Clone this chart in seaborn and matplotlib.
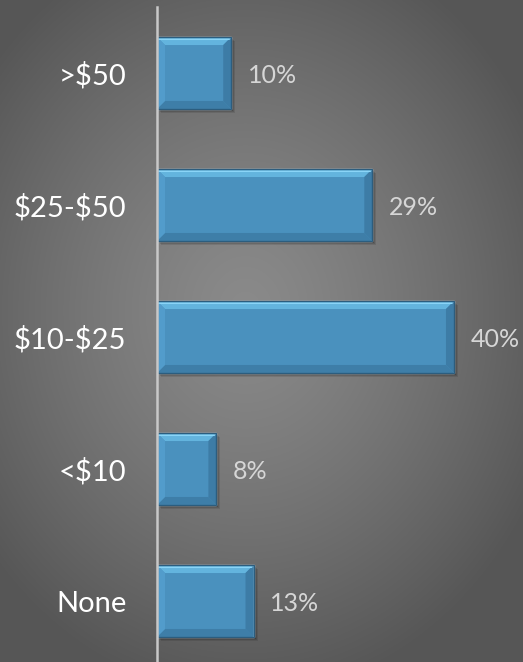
import numpy as np
import pandas as pd
import matplotlib
matplotlib.use('Agg')
import matplotlib.pyplot as plt
import matplotlib.transforms as mtransforms
from matplotlib.patches import Polygon, Rectangle
import seaborn as sns

# data
categories = ['>$50', '$25-$50', '$10-$25', '<$10', 'None']
values = [10, 29, 40, 8, 13]
value_labels = ['10%', '29%', '40%', '8%', '13%']

sns.set_theme(style='white')
plt.rcParams['font.family'] = ['Lato', 'DejaVu Sans']
plt.rcParams['text.parse_math'] = False  # keep the $ signs literal

W, H = 523, 662
fig = plt.figure(figsize=(W / 100, H / 100), dpi=100)

# radial grey background
bg = fig.add_axes([0, 0, 1, 1], zorder=-5)
yy, xx = np.mgrid[0:H, 0:W]
r = np.sqrt(((xx - 245) / 330.0) ** 2 + ((yy - 310) / 390.0) ** 2)
r = np.clip(r, 0, 1)
shade = (0x8a - (0x8a - 0x56) * r ** 1.3) / 255.0
bg.imshow(np.dstack([shade, shade, shade]), aspect='auto', extent=(0, 1, 0, 1))
bg.set_axis_off()

ax = fig.add_axes([157 / W, -5 / H, 1 - 157 / W, 660 / H])
ax.set_facecolor('none')

df = pd.DataFrame({'cat': categories, 'val': values})
sns.barplot(data=df, x='val', y='cat', orient='h', color='#4a91be', saturation=1,
            width=0.545, ax=ax, zorder=3)

ax.set_xlim(0, 49.3)
ax.set_ylim(4.5, -0.5)
ax.set_xlabel('')
ax.set_ylabel('')
ax.set_xticks([])
ax.tick_params(axis='y', length=0, pad=22, labelsize=21, labelcolor='white')
for s in ['top', 'right', 'bottom']:
    ax.spines[s].set_visible(False)
ax.spines['left'].set_color('#c8c8c8')
ax.spines['left'].set_linewidth(1.8)
ax.spines['left'].set_zorder(6)

# bevel + shadow built from the seaborn bars
fig.canvas.draw()
ident = mtransforms.IdentityTransform()
bars = list(ax.patches)
for p, lab in zip(bars, value_labels):
    bx, by, bw, bh = p.get_x(), p.get_y(), p.get_width(), p.get_height()
    (x0, ya), (x1, yb) = ax.transData.transform([(bx, by), (bx + bw, by + bh)])
    y0, y1 = min(ya, yb), max(ya, yb)
    for k, a in [(4, 0.10), (3, 0.12), (2, 0.16)]:
        ax.add_patch(Rectangle((x0 + k, y0 - k), x1 - x0, y1 - y0, transform=ident,
                               facecolor='black', alpha=a, edgecolor='none', zorder=2))
    b = 8
    polys = [
        ([(x0, y1), (x1, y1), (x1 - b, y1 - b), (x0 + b, y1 - b)], '#63b4de'),
        ([(x0, y0), (x1, y0), (x1 - b, y0 + b), (x0 + b, y0 + b)], '#3e7ea8'),
        ([(x0, y0), (x0, y1), (x0 + b, y1 - b), (x0 + b, y0 + b)], '#529ccb'),
        ([(x1, y0), (x1, y1), (x1 - b, y1 - b), (x1 - b, y0 + b)], '#3d7ca6'),
    ]
    for pts, c in polys:
        ax.add_patch(Polygon(pts, closed=True, transform=ident, facecolor=c,
                             edgecolor='none', zorder=4))
    ax.add_patch(Polygon([(x0, y1 - 1.5), (x1, y1 - 1.5), (x1 - 2, y1 - 3), (x0, y1 - 3)],
                         closed=True, transform=ident, facecolor='#8ad4f7',
                         edgecolor='none', zorder=4.5))
    ax.add_patch(Rectangle((x0, y0), x1 - x0, y1 - y0, transform=ident, facecolor='none',
                           edgecolor='#2c5d7e', linewidth=1.0, zorder=5))
    ax.annotate(lab, xy=(bx + bw, by + bh / 2), xytext=(12, -2), textcoords='offset points',
                va='center', ha='left', fontsize=18, color='#d6d6d6')

fig.savefig('out.png', dpi=100)
